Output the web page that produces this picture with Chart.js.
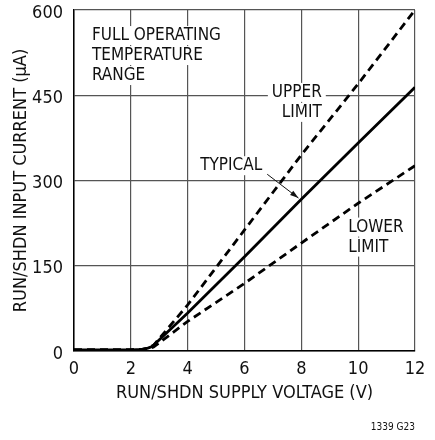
<!DOCTYPE html>
<html>
<head>
<meta charset="utf-8">
<script src="https://cdn.jsdelivr.net/npm/chart.js@4.4.1/dist/chart.umd.min.js"></script>
<style>
  html, body { margin: 0; padding: 0; background: #fff; }
  .chart-wrapper { position: relative; width: 435px; height: 440px; }
</style>
</head>
<body>
<div class="chart-wrapper">
  <canvas id="chart" width="435" height="440"></canvas>
</div>
<script>
const FONT = '"Liberation Sans Narrow", "Arial Narrow", "DejaVu Sans Condensed", sans-serif';

// supply voltage (V) / input current (uA)
const typicalV = [0, 1, 2, 2.4, 2.6, 2.75, 4, 6, 8, 10, 12];
const typicalI = [2, 2, 2, 3, 5, 8, 67, 166, 267, 366, 464];
const upperV = [0, 1, 2, 2.4, 2.6, 2.8, 4, 6, 8, 10, 12];
const upperI = [2, 2, 2, 3, 5, 10, 81, 213, 345, 470, 600];
const lowerV = [0, 1, 2, 2.4, 2.6, 2.8, 4, 6, 8, 10, 12];
const lowerI = [2, 2, 2, 3, 4, 7, 52, 119, 190, 260, 326];

const xTicks = [0, 2, 4, 6, 8, 10, 12];
const yTicks = [0, 150, 300, 450, 600];

const toPoints = (xs, ys) => xs.map((x, i) => ({ x: x, y: ys[i] }));

// text labels inside the plot, placed in data units
const notes = [
  { lines: ['FULL OPERATING', 'TEMPERATURE', 'RANGE'], x: 0.63, y: 570, align: 'left' },
  { lines: ['UPPER', 'LIMIT'], x: 8.72, y: 470, align: 'right' },
  { lines: ['TYPICAL'], x: 4.44, y: 341, align: 'left' },
  { lines: ['LOWER', 'LIMIT'], x: 9.65, y: 233, align: 'left' }
];

const notesPlugin = {
  id: 'notes',
  beforeDatasetsDraw(chart) {
    const { ctx, scales } = chart;
    const xs = scales.x, ys = scales.y;
    ctx.save();
    ctx.font = '17px ' + FONT;
    ctx.textBaseline = 'top';
    ctx.textAlign = 'left';
    notes.forEach(n => {
      const px = xs.getPixelForValue(n.x);
      let py = ys.getPixelForValue(n.y);
      n.lines.forEach(line => {
        const w = ctx.measureText(line).width;
        const left = n.align === 'right' ? px - w : px;
        ctx.fillStyle = '#fff';
        ctx.fillRect(left - 4, py - 1, w + 8, 19);
        ctx.fillStyle = '#111';
        ctx.fillText(line, left, py);
        py += 20;
      });
    });
    ctx.restore();
  },
  afterDatasetsDraw(chart) {
    const { ctx, scales } = chart;
    const xs = scales.x, ys = scales.y;
    ctx.save();
    // arrow from TYPICAL to the typical curve at 8 V
    const x0 = xs.getPixelForValue(6.8), y0 = ys.getPixelForValue(311);
    const x1 = xs.getPixelForValue(7.9), y1 = ys.getPixelForValue(269);
    ctx.strokeStyle = '#111';
    ctx.lineWidth = 1;
    ctx.beginPath();
    ctx.moveTo(x0, y0);
    ctx.lineTo(x1, y1);
    ctx.stroke();
    const ang = Math.atan2(y1 - y0, x1 - x0);
    ctx.fillStyle = '#111';
    ctx.beginPath();
    ctx.moveTo(x1, y1);
    ctx.lineTo(x1 - 9 * Math.cos(ang - 0.3), y1 - 9 * Math.sin(ang - 0.3));
    ctx.lineTo(x1 - 9 * Math.cos(ang + 0.3), y1 - 9 * Math.sin(ang + 0.3));
    ctx.closePath();
    ctx.fill();

    // figure id
    ctx.font = '10px ' + FONT;
    ctx.textAlign = 'right';
    ctx.textBaseline = 'alphabetic';
    ctx.fillText('1339 G23', xs.right, chart.height - 10);
    ctx.restore();
  }
};

const ctx = document.getElementById('chart').getContext('2d');
new Chart(ctx, {
  type: 'line',
  data: {
    datasets: [
      { label: 'Upper', data: toPoints(upperV, upperI), borderColor: '#000', borderWidth: 2.8, borderDash: [8, 5], pointRadius: 0, tension: 0 },
      { label: 'Typical', data: toPoints(typicalV, typicalI), borderColor: '#000', borderWidth: 2.8, pointRadius: 0, tension: 0 },
      { label: 'Lower', data: toPoints(lowerV, lowerI), borderColor: '#000', borderWidth: 2.8, borderDash: [8, 5], pointRadius: 0, tension: 0 }
    ]
  },
  options: {
    responsive: false,
    animation: false,
    layout: { padding: { left: 0, right: 20, top: 10, bottom: 36 } },
    plugins: {
      legend: { display: false },
      tooltip: { enabled: false }
    },
    scales: {
      x: {
        type: 'linear',
        min: 0,
        max: 12,
        afterBuildTicks: s => { s.ticks = xTicks.map(v => ({ value: v })); },
        afterFit: s => { s.height = 53; s.paddingLeft = 0; s.paddingRight = 0; },
        grid: { color: '#555', lineWidth: 1.2, drawTicks: false },
        border: { color: '#000', width: 1.5 },
        ticks: { color: '#111', font: { family: FONT, size: 18 }, padding: 8 },
        title: {
          display: true,
          text: 'RUN/SHDN SUPPLY VOLTAGE (V)',
          color: '#111',
          font: { family: FONT, size: 18 },
          padding: { top: 0, bottom: 0 }
        }
      },
      y: {
        min: 0,
        max: 600,
        afterBuildTicks: s => { s.ticks = yTicks.map(v => ({ value: v })); },
        afterFit: s => { s.width = 74; s.paddingTop = 0; s.paddingBottom = 0; },
        grid: { color: '#555', lineWidth: 1.2, drawTicks: false },
        border: { color: '#000', width: 1.5 },
        ticks: { color: '#111', font: { family: FONT, size: 18 }, padding: 11, labelOffset: 3 },
        title: {
          display: true,
          text: 'RUN/SHDN INPUT CURRENT (\u00b5A)',
          color: '#111',
          font: { family: FONT, size: 18 },
          padding: { top: 11, bottom: 0 }
        }
      }
    }
  },
  plugins: [notesPlugin]
});
</script>
</body>
</html>
